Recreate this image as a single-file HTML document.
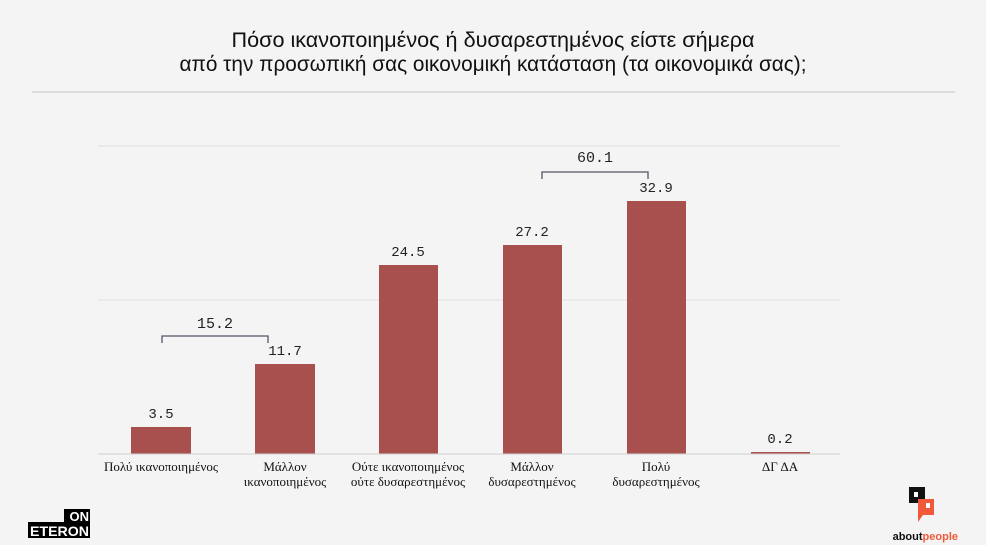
<!DOCTYPE html>
<html><head><meta charset="utf-8"><style>
body{margin:0;width:1000px;height:560px;background:#fff;overflow:hidden}
svg{display:block}
</style></head><body>
<svg width="1000" height="560" xmlns="http://www.w3.org/2000/svg">
<rect x="0" y="0" width="986" height="545" fill="#f4f4f4"/>
<g font-family="Liberation Sans, DejaVu Sans, sans-serif" font-size="21" fill="#111" text-anchor="middle">
<text x="493" y="47" textLength="523" lengthAdjust="spacingAndGlyphs">Πόσο ικανοποιημένος ή δυσαρεστημένος είστε σήμερα</text>
<text x="493" y="71" textLength="627" lengthAdjust="spacingAndGlyphs">από την προσωπική σας οικονομική κατάσταση (τα οικονομικά σας);</text>
</g>
<line x1="32" y1="92" x2="955" y2="92" stroke="#dcdcdc" stroke-width="2"/>
<g stroke="#e0e0e0" stroke-width="1">
<line x1="98" y1="146" x2="840" y2="146"/>
<line x1="98" y1="300" x2="840" y2="300"/>
</g>
<g fill="#a8504e">
<rect x="131" y="427" width="60" height="27"/>
<rect x="255" y="364" width="60" height="90"/>
<rect x="379" y="265" width="59" height="189"/>
<rect x="503" y="245" width="59" height="209"/>
<rect x="627" y="201" width="59" height="253"/>
<rect x="751" y="452" width="59" height="2"/>
</g>
<line x1="98" y1="454" x2="840" y2="454" stroke="#d0d0d0" stroke-width="1"/>
<g font-family="Liberation Mono, DejaVu Sans Mono, monospace" font-size="14" fill="#222" text-anchor="middle">
<text x="161" y="418">3.5</text>
<text x="285" y="355">11.7</text>
<text x="408" y="256">24.5</text>
<text x="532" y="236">27.2</text>
<text x="656" y="192">32.9</text>
<text x="780" y="443">0.2</text>
<text x="215" y="328" font-size="15">15.2</text>
<text x="595" y="162" font-size="15">60.1</text>
</g>
<g fill="none" stroke="#556" stroke-width="1.3">
<path d="M162 343 V336 H268 V343"/>
<path d="M542 179 V172 H648 V179"/>
</g>
<g font-family="Liberation Serif, DejaVu Serif, serif" font-size="13" fill="#111" text-anchor="middle">
<text x="161" y="471">Πολύ ικανοποιημένος</text>
<text x="285" y="471">Μάλλον</text><text x="285" y="486">ικανοποιημένος</text>
<text x="408" y="471">Ούτε ικανοποιημένος</text><text x="408" y="486">ούτε δυσαρεστημένος</text>
<text x="532" y="471">Μάλλον</text><text x="532" y="486">δυσαρεστημένος</text>
<text x="656" y="471">Πολύ</text><text x="656" y="486">δυσαρεστημένος</text>
<text x="780" y="471">ΔΓ ΔΑ</text>
</g>
<rect x="64" y="509" width="26" height="13" fill="#000"/>
<rect x="28" y="522" width="62" height="16" fill="#000"/>
<g font-family="Liberation Sans, sans-serif" font-weight="bold" fill="#fff" text-anchor="end">
<text x="89" y="521" font-size="13">ON</text>
<text x="89" y="536" font-size="14" textLength="59" lengthAdjust="spacingAndGlyphs">ETERON</text>
</g>
<rect x="909" y="487" width="16" height="16" fill="#111"/>
<rect x="914" y="492" width="4" height="5" fill="#fff"/>
<rect x="918" y="499" width="16" height="16" fill="#f05a3a"/>
<path d="M918 515 L918 522 L923 515 Z" fill="#f05a3a"/>
<rect x="926" y="503" width="4" height="5" fill="#fff"/>
<text x="958" y="540" font-family="Liberation Sans, sans-serif" font-size="11" font-weight="bold" text-anchor="end" fill="#111">about<tspan fill="#f05a3a">people</tspan></text>
</svg>
</body></html>
